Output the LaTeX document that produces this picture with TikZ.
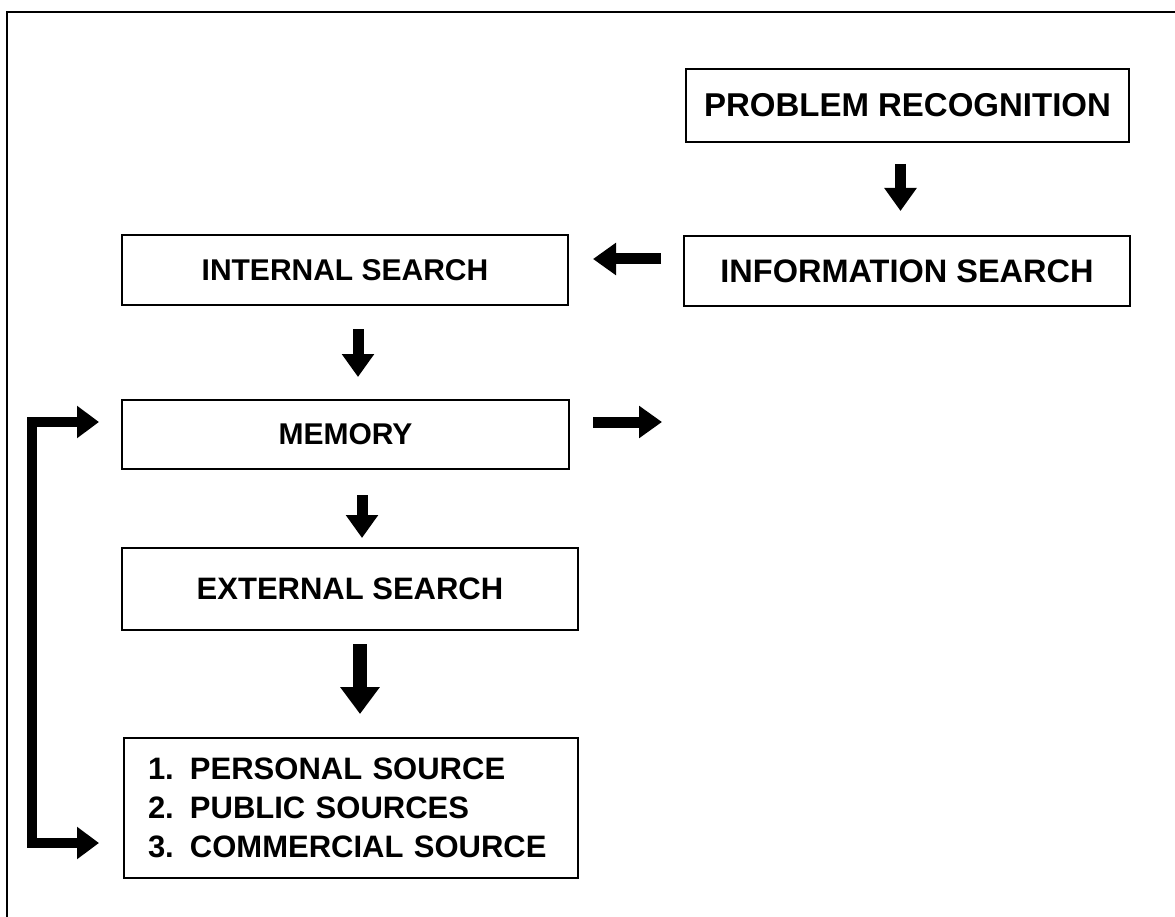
\documentclass[tikz,border=0pt]{standalone}
\usepackage{fontspec}
\setmainfont{Liberation Sans}
\usetikzlibrary{arrows.meta}
\begin{document}
\begin{tikzpicture}[x=1pt,y=-1pt,
  box/.style={draw, line width=2pt, inner sep=0pt, align=center},
  blk/.style={line width=11pt, -{Triangle[width=31pt,length=23pt]}},
  bigblk/.style={line width=14pt, -{Triangle[width=38pt,length=27pt]}},
  fb/.style={line width=10pt, line join=miter, {Triangle[width=31pt,length=22pt]}-{Triangle[width=31pt,length=22pt]}}
]
\useasboundingbox (0,0) rectangle (1175,917);
\fill[white] (0,0) rectangle (1175,917);
\draw[line width=2.5pt] (7,917) -- (7,12) -- (1175,12);

\node[box, minimum width=443pt, minimum height=73pt, font=\bfseries\fontsize{33}{39}\selectfont] (pr) at (907.5,105.5) {PROBLEM RECOGNITION};
\node[box, minimum width=446pt, minimum height=70pt, font=\bfseries\fontsize{32.5}{39}\selectfont] (info) at (907,271) {INFORMATION SEARCH};
\node[box, minimum width=446pt, minimum height=70pt, font=\bfseries\fontsize{30}{39}\selectfont] (internal) at (345,270) {INTERNAL SEARCH};
\node[box, minimum width=447pt, minimum height=69pt, font=\bfseries\fontsize{30}{39}\selectfont] (memory) at (345.5,434.5) {MEMORY};
\node[box, minimum width=456pt, minimum height=82pt, font=\bfseries\fontsize{31}{39}\selectfont] (external) at (350,589) {EXTERNAL SEARCH};
\node[box, minimum width=454pt, minimum height=140pt, text width=406pt, align=left, inner xsep=24pt, font=\bfseries\fontsize{31}{39}\selectfont] (sources) at (351,808)
  {\makebox[42pt][l]{1.}PERSONAL SOURCE\\\makebox[42pt][l]{2.}PUBLIC SOURCES\\\makebox[42pt][l]{3.}COMMERCIAL SOURCE};

\coordinate (a1) at ([xshift=-7pt]pr.south);
\draw[blk, shorten <=21pt, shorten >=24pt] (a1) -- (a1 |- info.north);
\coordinate (a2) at ([yshift=12pt]info.west);
\draw[blk, shorten <=22pt, shorten >=24pt] (a2) -- (a2 -| internal.east);
\coordinate (a3) at ([xshift=13pt]internal.south);
\draw[blk, shorten <=23pt, shorten >=22pt] (a3) -- (a3 |- memory.north);
\coordinate (a4) at ([yshift=12.5pt]memory.east);
\coordinate (mout) at (662,422);
\draw[blk, shorten <=23pt] (a4) -- (mout);
\coordinate (a5) at ([xshift=16.5pt]memory.south);
\draw[blk, shorten <=25pt, shorten >=9pt] (a5) -- (a5 |- external.north);
\coordinate (a6) at ([xshift=10pt]external.south);
\draw[bigblk, shorten <=13pt, shorten >=23pt] (a6) -- (a6 |- sources.north);

\coordinate (f1) at ([yshift=12.5pt]memory.west);
\coordinate (f2) at ([yshift=-35pt]sources.west);
\coordinate (fx) at (32,0);
\draw[fb, shorten <=22pt, shorten >=24pt] (f1) -- (f1 -| fx) -- (f2 -| fx) -- (f2);
\end{tikzpicture}
\end{document}
